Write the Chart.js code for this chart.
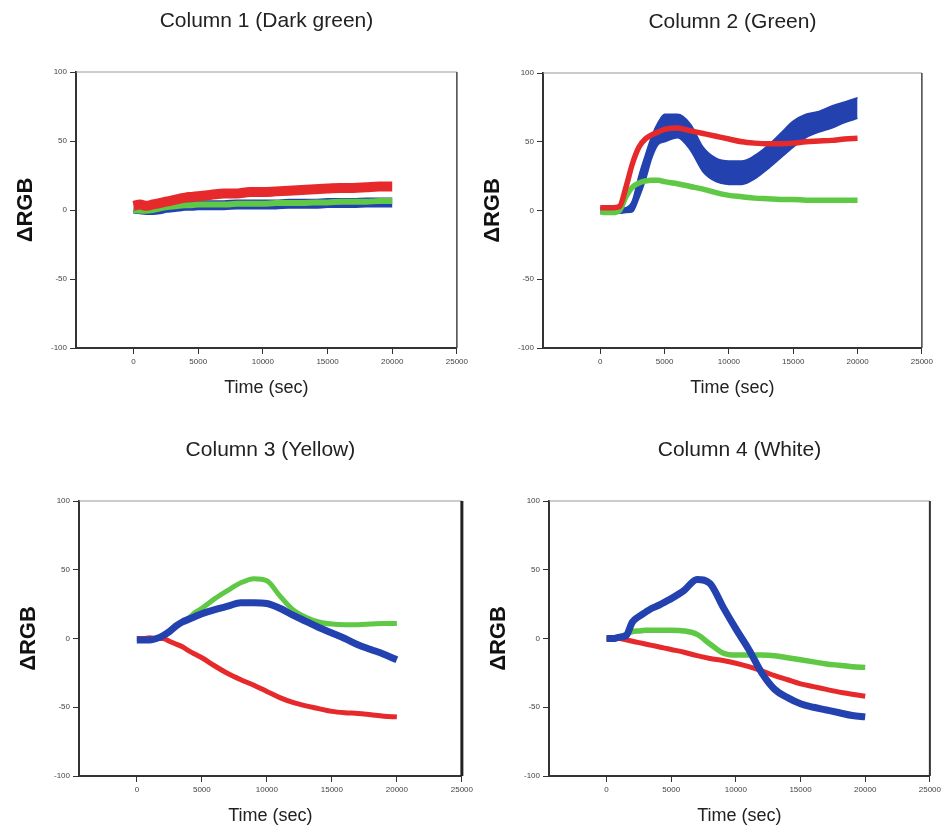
<!DOCTYPE html>
<html>
<head>
<meta charset="utf-8">
<title>ΔRGB vs time</title>
<script src="https://cdn.jsdelivr.net/npm/chart.js@4.4.0/dist/chart.umd.min.js"></script>
<style>
  html, body { margin: 0; padding: 0; background: #fff; }
  #page { position: relative; width: 945px; height: 832px; overflow: hidden; }
  #page canvas { position: absolute; }
</style>
</head>
<body>
<div id="page">
  <canvas id="chart1"></canvas>
  <canvas id="chart2"></canvas>
  <canvas id="chart3"></canvas>
  <canvas id="chart4"></canvas>
</div>
<script>
// Sample times (sec), shared by every trace
const timeSec = [0, 500, 1000, 1500, 2000, 2500, 3000, 3500, 4000, 4500, 5000, 6000, 7000,
  8000, 9000, 10000, 11000, 12000, 13000, 14000, 15000, 16000, 17000, 18000, 19000, 20000];

const xTickValues = [0, 5000, 10000, 15000, 20000, 25000];
const yTickValues = [-100, -50, 0, 50, 100];

const panelTitles = ['Column 1 (Dark green)', 'Column 2 (Green)', 'Column 3 (Yellow)', 'Column 4 (White)'];

// Column 1 (Dark green)
const col1Red   = [3, 4, 3, 4, 5, 6, 7, 8, 9, 9.5, 10, 11, 12, 12, 13, 13, 13.5, 14, 14.5, 15, 15.5, 16, 16, 16.5, 17, 17];
const col1Green = [0, -0.5, -0.5, 0, 1, 2, 2.5, 3, 3.5, 3.5, 4, 4, 4, 4.5, 4.5, 4.5, 5, 5, 5, 5.5, 5.5, 6, 6, 6, 6.5, 6.5];
const col1Blue  = [1, 0.5, 0, 0, 0.5, 1.5, 2, 2.5, 3, 3, 3.5, 3.5, 3.5, 4, 4, 4, 4, 4.5, 4.5, 4.5, 5, 5, 5, 5.5, 5.5, 5.5];

// Column 2 (Green) - blue is a noisy band, kept as its upper and lower edge
const col2Red       = [2, 2, 2, 3, 17, 34, 46, 52, 55, 57, 59, 60, 58, 56, 54, 52, 50, 49, 48.5, 48.5, 49, 50, 50.5, 51, 52, 52.5];
const col2Green     = [-1, -1.5, -1.5, 0, 10, 17, 20, 21.5, 22, 22, 21, 19.5, 17.5, 15.5, 13, 11, 10, 9, 8.5, 8, 8, 7.5, 7.5, 7.5, 7.5, 7.5];
const col2BlueUpper = [2, 2, 1.5, 1.5, 2, 7, 25, 40, 54, 64, 70, 70, 63, 46, 38, 36, 36, 40, 47, 56, 65, 70, 72, 76, 79, 82];
const col2BlueLower = [-2, -2, -2, -2, -1.5, -1, 9, 22, 38, 48, 50, 53, 44, 28, 21, 19, 19, 23, 30, 38, 46, 53, 57, 60, 64, 67];

// Column 3 (Yellow)
const col3Red   = [0, 0, 0.5, 0, 0, -2, -4, -6, -9, -11.5, -14, -20, -25.5, -30, -34, -38.5, -43, -46.5, -49, -51, -53, -54, -54.5, -55.5, -56.5, -57];
const col3Green = [-1, -1, -1, 0, 2, 5, 9, 12, 15, 19, 22, 29, 35, 40.5, 43.5, 42, 31, 21, 15.5, 12, 10.5, 10, 10, 10.5, 11, 11];
const col3Blue  = [-1, -1, -1, 0, 2, 5, 9, 12, 14, 16, 18, 21, 23.5, 26, 26, 25.5, 22, 17, 12.5, 8, 4, 0, -4.5, -8, -11.5, -15.5];

// Column 4 (White)
const col4Red   = [0, 0, 0, -1, -2, -3, -4, -5, -6, -7, -8, -10, -12.5, -14.5, -16, -18, -20.5, -23.5, -27, -30, -33, -35, -37, -39, -40.5, -42];
const col4Green = [0, 0, 1, 3, 5, 5.5, 6, 6, 6, 6, 6, 5.5, 3, -4, -10.5, -12, -12, -12, -12.5, -14, -15.5, -17, -18.5, -19.5, -20.5, -21];
const col4Blue  = [0, 0, 1, 2, 12, 16, 19, 22, 24, 26.5, 29, 35, 43, 40, 23, 7, -8, -25, -37, -43, -47.5, -50, -52, -54, -56, -57];

const RED = '#e62a2c';
const GREEN = '#5fc845';
const BLUE = '#2441b0';

Chart.defaults.font.family = '"Liberation Sans", Arial, sans-serif';

// top and right edges of the plot box
const framePlugin = {
  id: 'frame',
  afterDatasetsDraw(chart, args, opts) {
    const { ctx, chartArea: a } = chart;
    ctx.save();
    ctx.strokeStyle = opts.topColor;
    ctx.lineWidth = opts.topWidth;
    ctx.beginPath();
    ctx.moveTo(a.left, a.top);
    ctx.lineTo(a.right, a.top);
    ctx.stroke();
    ctx.strokeStyle = opts.rightColor;
    ctx.lineWidth = opts.rightWidth;
    ctx.beginPath();
    ctx.moveTo(a.right, a.top);
    ctx.lineTo(a.right, a.bottom);
    ctx.stroke();
    ctx.restore();
  }
};

function trace(values, color, width) {
  return {
    data: timeSec.map((t, i) => ({ x: t, y: values[i] })),
    borderColor: color,
    backgroundColor: color,
    borderWidth: width,
    pointRadius: 0,
    cubicInterpolationMode: 'monotone',
    fill: false
  };
}

function makeChart(id, box, title, datasets, frame) {
  const Y_W = 76, TITLE_H = 72, X_H = 55, PAD_R = 14;
  const canvas = document.getElementById(id);
  canvas.style.left = (box.l - Y_W) + 'px';
  canvas.style.top = (box.t - TITLE_H) + 'px';
  canvas.width = box.r - box.l + Y_W + PAD_R;
  canvas.height = TITLE_H + (box.b - box.t) + X_H;

  const tickGrid = { drawOnChartArea: false, drawTicks: true, tickLength: 6, tickColor: '#333', tickWidth: 1 };
  const axisBorder = { display: true, color: '#333', width: 2 };

  return new Chart(canvas.getContext('2d'), {
    type: 'line',
    data: { datasets: datasets },
    plugins: [framePlugin],
    options: {
      responsive: false,
      animation: false,
      layout: { padding: { left: 0, top: 0, right: PAD_R, bottom: 0 } },
      plugins: {
        legend: { display: false },
        tooltip: { enabled: false },
        title: {
          display: true, text: title, fullSize: false, color: '#222',
          font: { size: 21, weight: 'normal', lineHeight: 1 },
          padding: { top: 11, bottom: 40 }
        },
        frame: frame
      },
      scales: {
        x: {
          type: 'linear', min: -4450, max: 25000,
          afterBuildTicks: s => { s.ticks = xTickValues.map(v => ({ value: v })); },
          afterFit: s => { s.height = X_H; },
          ticks: { font: { size: 8 }, color: '#444', padding: 3, maxRotation: 0, autoSkip: false, callback: v => String(v) },
          grid: tickGrid,
          border: axisBorder,
          title: { display: true, text: 'Time (sec)', color: '#222', font: { size: 18, lineHeight: 1 }, padding: { top: 0, bottom: 6 } }
        },
        y: {
          type: 'linear', min: -100, max: 100,
          afterBuildTicks: s => { s.ticks = yTickValues.map(v => ({ value: v })); },
          afterFit: s => { s.width = Y_W; },
          ticks: { font: { size: 8 }, color: '#444', padding: 3, callback: v => String(v) },
          grid: tickGrid,
          border: axisBorder,
          title: { display: true, text: 'ΔRGB', color: '#111', font: { size: 22, weight: 'bold', lineHeight: 1 }, padding: { top: 15, bottom: 0 } }
        }
      }
    }
  });
}

// Column 1: red on top, then green, blue underneath
makeChart('chart1', { l: 76, t: 72, r: 457, b: 348 }, panelTitles[0], [
  trace(col1Red, RED, 10),
  trace(col1Green, GREEN, 6),
  trace(col1Blue, BLUE, 10)
], { topColor: '#999', topWidth: 1, rightColor: '#444', rightWidth: 1.5 });

// Column 2: blue drawn as a filled band between its edges
const blueUpper = trace(col2BlueUpper, BLUE, 1.5);
const blueLower = trace(col2BlueLower, BLUE, 1.5);
blueLower.fill = '-1';
makeChart('chart2', { l: 543, t: 73, r: 922, b: 348 }, panelTitles[1], [
  trace(col2Red, RED, 5.5),
  trace(col2Green, GREEN, 5.5),
  blueUpper,
  blueLower
], { topColor: '#999', topWidth: 1, rightColor: '#444', rightWidth: 1.5 });

makeChart('chart3', { l: 79, t: 501, r: 462, b: 776 }, panelTitles[2], [
  trace(col3Blue, BLUE, 7),
  trace(col3Green, GREEN, 5),
  trace(col3Red, RED, 5)
], { topColor: '#999', topWidth: 1, rightColor: '#222', rightWidth: 3 });

makeChart('chart4', { l: 549, t: 501, r: 930, b: 776 }, panelTitles[3], [
  trace(col4Blue, BLUE, 7),
  trace(col4Green, GREEN, 5.5),
  trace(col4Red, RED, 5)
], { topColor: '#999', topWidth: 1, rightColor: '#333', rightWidth: 2 });
</script>
</body>
</html>
